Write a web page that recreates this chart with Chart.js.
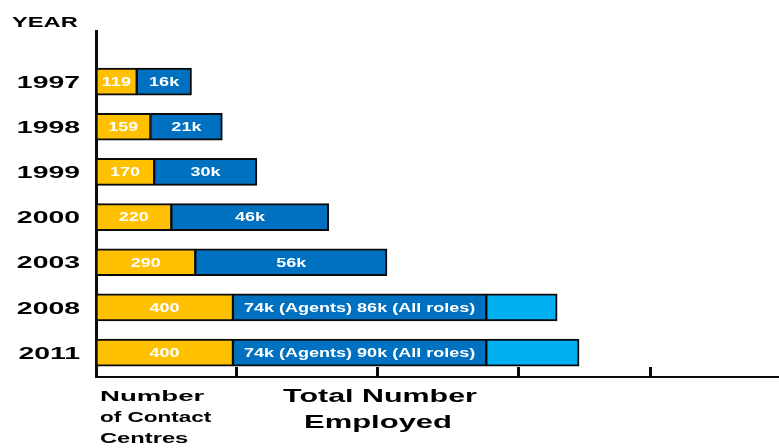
<!DOCTYPE html>
<html>
<head>
<meta charset="utf-8">
<title>Contact centres and staff by year</title>
<script src="https://cdn.jsdelivr.net/npm/chart.js@4.4.1/dist/chart.umd.min.js"></script>
<style>
  html, body { margin: 0; padding: 0; background: #fff; }
  #wrap { width: 779px; height: 448px; }
</style>
</head>
<body>
<div id="wrap"><canvas id="chart" width="779" height="448"></canvas></div>
<script>
const years          = ['1997', '1998', '1999', '2000', '2003', '2008', '2011'];
const contactCentres = [119, 159, 170, 220, 290, 400, 400];
const agentsK        = [16, 21, 30, 46, 56, 74, 74];
const allRolesK      = [null, null, null, null, null, 86, 90];
// light blue end piece, length (in thousands)
const otherRolesDrawnK = [null, null, null, null, null, 20.7, 27.1];
const xTickValues    = [410, 822, 1233, 1620];

const K = 10; // bar units per thousand staff, on the same strip as the centres
const FONT = "'Liberation Sans', Arial, sans-serif";

const YELLOW = '#FFC000';
const BLUE   = '#0070C0';
const LIGHT  = '#00B0F0';
const EDGE   = '#0a0a0a';

const staffLabels = agentsK.map((k, i) =>
    allRolesK[i] ? `${k}k (Agents) ${allRolesK[i]}k (All roles)` : `${k}k`);

const toPoints = (values, mult) => values
    .map((v, i) => (v == null ? null : { x: v * mult, y: i }))
    .filter(p => p);

// bold text stretched sideways, like the original slide
function wideText(ctx, text, x, baseline, size, sx, align, color) {
    ctx.save();
    ctx.font = `700 ${size}px ${FONT}`;
    ctx.fillStyle = color || '#000';
    ctx.textAlign = 'left';
    ctx.textBaseline = 'alphabetic';
    const w = ctx.measureText(text).width * sx;
    const left = align === 'center' ? x - w / 2 : align === 'right' ? x - w : x;
    ctx.translate(left, baseline);
    ctx.scale(sx, 1);
    ctx.fillText(text, 0, 0);
    ctx.restore();
}

const barLabels = {
    id: 'barLabels',
    afterDatasetsDraw(chart) {
        const { ctx } = chart;
        const put = (meta, texts) => {
            meta.data.forEach((bar, i) => {
                const cx = (bar.x + bar.base) / 2;
                wideText(ctx, texts[i], cx, bar.y + 4.3, 12, 1.5, 'center', '#fff');
            });
        };
        put(chart.getDatasetMeta(0), contactCentres.map(String));
        put(chart.getDatasetMeta(1), staffLabels);
    }
};

const sideTexts = {
    id: 'sideTexts',
    afterDraw(chart) {
        const { ctx } = chart;
        const y = chart.scales.y;
        years.forEach((yr, i) => {
            wideText(ctx, yr, 80, y.getPixelForValue(i) + 6.1, 17, 1.67, 'right');
        });
        wideText(ctx, 'YEAR', 12, 26.5, 15, 1.58, 'left');

        wideText(ctx, 'Number', 100, 401, 15, 1.84, 'left');
        wideText(ctx, 'of Contact', 100, 422, 15, 1.5, 'left');
        wideText(ctx, 'Centres', 100, 443, 15, 1.58, 'left');

        wideText(ctx, 'Total Number', 380, 402, 18, 1.69, 'center');
        wideText(ctx, 'Employed', 378, 427.5, 18, 1.72, 'center');
    }
};

new Chart(document.getElementById('chart').getContext('2d'), {
    type: 'bar',
    plugins: [barLabels, sideTexts],
    data: {
        datasets: [
            {
                label: 'Number of Contact Centres',
                data: toPoints(contactCentres, 1),
                backgroundColor: YELLOW,
                borderColor: EDGE,
                borderWidth: { top: 2, bottom: 2, left: 2, right: 1.5 },
            },
            {
                label: 'Total Number Employed',
                data: toPoints(agentsK, K),
                backgroundColor: BLUE,
                borderColor: EDGE,
                borderWidth: (c) => ({ top: 2, bottom: 2, left: 1.5, right: otherRolesDrawnK[c.dataIndex] ? 1.5 : 2 }),
            },
            {
                label: 'All roles',
                data: toPoints(otherRolesDrawnK, K),
                backgroundColor: LIGHT,
                borderColor: EDGE,
                borderWidth: { top: 2, bottom: 2, left: 1.5, right: 2 },
            }
        ]
    },
    options: {
        indexAxis: 'y',
        responsive: false,
        animation: false,
        layout: { padding: { top: 31, left: 0, right: 0, bottom: 0 } },
        datasets: {
            bar: { barThickness: 27, borderSkipped: false, borderRadius: 0 }
        },
        scales: {
            x: {
                type: 'linear',
                stacked: true,
                min: 0,
                max: 1995,
                afterBuildTicks(scale) { scale.ticks = xTickValues.map(v => ({ value: v })); },
                afterFit(scale) { scale.height = 71; },
                ticks: { display: false },
                grid: {
                    drawOnChartArea: false,
                    drawTicks: true,
                    tickLength: -10,
                    color: EDGE,
                    lineWidth: 3,
                },
                border: { display: true, color: EDGE, width: 2 },
            },
            y: {
                type: 'linear',
                stacked: true,
                reverse: true,
                offset: false,
                min: -1.12,
                max: 6.54,
                afterFit(scale) { scale.width = 96; },
                ticks: { display: false },
                grid: { display: false, offset: false },
                border: { display: true, color: EDGE, width: 3 },
            }
        },
        plugins: {
            legend: { display: false },
            tooltip: { enabled: false },
        }
    }
});
</script>
</body>
</html>
